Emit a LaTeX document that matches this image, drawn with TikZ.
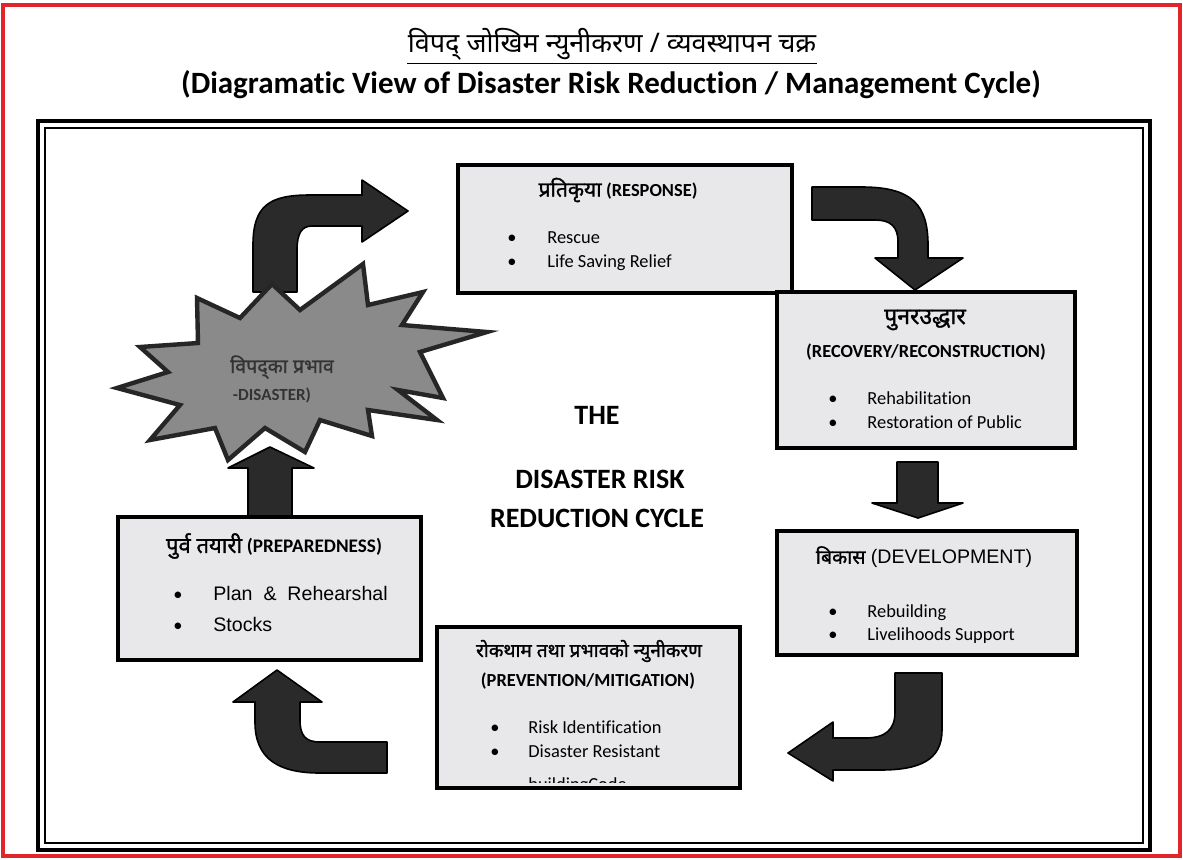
\documentclass[tikz,border=0pt]{standalone}
\usepackage{fontspec}
\setmainfont[Ligatures=NoCommon]{Carlito}
\newfontfamily\arialf{Liberation Sans}
\newfontfamily\deva[Script=Devanagari]{Noto Sans}
\newfontfamily\devab[Script=Devanagari, FakeBold=1.3]{Noto Sans}
\usetikzlibrary{calc}
\definecolor{boxfill}{HTML}{E8E8EA}
\definecolor{arrowfill}{HTML}{2A2A2A}
\definecolor{starfill}{HTML}{8A8A8A}
\definecolor{framered}{HTML}{E0262A}
\tikzset{
  stagebox/.style={draw=black, line width=2.4pt, fill=boxfill, inner sep=0pt},
  blockarrow/.style={fill=arrowfill, draw=black, line width=0.8pt, line join=round},
  txt/.style={inner sep=0pt, font=\fontsize{9.2}{11}\selectfont},
  bul/.style={inner sep=0pt, font=\fontsize{9.2}{11}\selectfont, anchor=mid},
  itemtxt/.style={inner sep=0pt, font=\fontsize{9.2}{11}\selectfont, anchor=mid west},
  aitemtxt/.style={inner sep=0pt, font=\arialf\fontsize{9.8}{11}\selectfont, anchor=mid west},
  centretxt/.style={inner sep=0pt, font=\bfseries\fontsize{14}{16}\selectfont},
}
\begin{document}
\begin{tikzpicture}[x=0.5pt,y=-0.5pt]
\useasboundingbox (0,0) rectangle (1183,859);
\fill[white] (0,0) rectangle (1183,859);
% red outer border
\draw[framered, line width=1.6pt] (3,5) rectangle (1180,856);
% double frame
\draw[black, line width=2pt] (38,121) rectangle (1150,850);
\draw[black, line width=0.8pt] (45,128) rectangle (1143,843);

% titles
\node[inner sep=0pt, font=\deva\fontsize{13.5}{15}\selectfont] (dtitle) at (612,44) {विपद् जोखिम न्युनीकरण / व्यवस्थापन चक्र};
\draw[line width=0.7pt] ($(dtitle.south west)+(0,-1.5pt)$) -- ($(dtitle.south east)+(0,-1.5pt)$);
\node[inner sep=0pt, font=\bfseries\fontsize{15.5}{17}\selectfont] (etitle) at (611,85) {(Diagramatic View of Disaster Risk Reduction / Management Cycle)};

% block arrows
\draw[blockarrow] (253,292) -- (253,245) .. controls (253,205) and (270,195) .. (310,195)
  -- (362,195) -- (362,180) -- (408,211) -- (362,242) -- (362,226) -- (312,226)
  .. controls (302,226) and (297,233) .. (297,250) -- (297,292) -- cycle;
\draw[blockarrow] (812,187) -- (862,187) .. controls (912,187) and (928,205) .. (928,245)
  -- (928,258) -- (963,258) -- (915,290) -- (875,258) -- (898,258) -- (898,242)
  .. controls (898,226) and (890,220) .. (875,220) -- (812,220) -- cycle;
\draw[blockarrow] (897,462) -- (938,462) -- (938,503) -- (963,503) -- (918,518) -- (872,503) -- (897,503) -- cycle;
\draw[blockarrow] (895,673) -- (942,673) -- (942,730) .. controls (942,760) and (920,770) .. (880,770)
  -- (833,770) -- (833,781) -- (788,753) -- (833,722) -- (833,738) -- (865,738)
  .. controls (885,738) and (895,730) .. (895,712) -- cycle;
\draw[blockarrow] (387,742) -- (320,742) .. controls (305,742) and (300,735) .. (300,720)
  -- (300,702) -- (322,702) -- (277,670) -- (233,702) -- (255,702) -- (255,722)
  .. controls (255,760) and (280,773) .. (320,773) -- (387,773) -- cycle;

% disaster starburst
\draw[fill=starfill, draw=black!85, line width=2.2pt, line join=miter, miter limit=20]
  (197,298) -- (240,318) -- (272,284) -- (300,310) -- (363,264) -- (368,305) -- (423,292)
  -- (402,325) -- (487,332) -- (420,352) -- (443,398) -- (398,390) -- (437,420) -- (368,410)
  -- (372,436) -- (320,420) -- (305,452) -- (265,428) -- (228,460) -- (215,428) -- (150,440)
  -- (180,405) -- (117,388) -- (168,372) -- (140,347) -- (198,343) -- cycle;
\node[inner sep=0pt, text=black!80, font=\devab\fontsize{9.8}{11}\selectfont] (dis1) at (282,367) {विपद्का प्रभाव};
\node[inner sep=0pt, text=black!80, font=\bfseries\fontsize{8.5}{10}\selectfont] (dis2) at (272,395) {-DISASTER)};
\draw[blockarrow] (248,517) -- (248,468) -- (228,468) -- (270,447) -- (314,468) -- (292,468) -- (292,517) -- cycle;

% stage boxes
\node[stagebox, minimum width=167pt, minimum height=64pt] (resp) at (625,229) {};
\node[stagebox, minimum width=149pt, minimum height=78pt] (reco) at (926,370) {};
\node[stagebox, minimum width=150pt, minimum height=62pt] (deve) at (927,593) {};
\node[stagebox, minimum width=151.5pt, minimum height=80.5pt] (prev) at (588.5,707.5) {};
\node[stagebox, minimum width=151.5pt, minimum height=71.5pt] (prep) at (269.5,588.5) {};

% response
\node[txt] (respt) at (618,190) {{\devab\fontsize{10.5}{12}\selectfont प्रतिकृया} \textbf{(RESPONSE)}};
\node[bul] (rb1) at (512,239) {•};
\node[itemtxt] (ri1) at (547,239) {Rescue};
\node[bul] (rb2) at (512,263) {•};
\node[itemtxt] (ri2) at (547,263) {Life Saving Relief};

% recovery
\node[txt, font=\devab\fontsize{11.5}{13}\selectfont] (recot1) at (925,320) {पुनरउद्धार};
\node[txt, font=\bfseries\fontsize{9.2}{11}\selectfont] (recot2) at (926,352) {(RECOVERY/RECONSTRUCTION)};
\node[bul] (cb1) at (833,400) {•};
\node[itemtxt] (ci1) at (867,400) {Rehabilitation};
\node[bul] (cb2) at (833,424) {•};
\node[itemtxt] (ci2) at (867,424) {Restoration of Public};

% development
\node[txt, font=\arialf\fontsize{9.8}{11}\selectfont] (devet) at (924,557) {{\devab बिकास} (DEVELOPMENT)};
\node[bul] (db1) at (833,613) {•};
\node[itemtxt] (di1) at (867,613) {Rebuilding};
\node[bul] (db2) at (833,636) {•};
\node[itemtxt] (di2) at (867,636) {Livelihoods Support};

% prevention
\node[txt, font=\devab\fontsize{9.5}{12}\selectfont] (prevt1) at (589,651) {रोकथाम तथा प्रभावको न्युनीकरण};
\node[txt, font=\bfseries\fontsize{9.2}{11}\selectfont] (prevt2) at (588,681) {(PREVENTION/MITIGATION)};
\node[bul] (pb1) at (495,729) {•};
\node[itemtxt] (pi1) at (528,729) {Risk Identification};
\node[bul] (pb2) at (495,753) {•};
\node[itemtxt] (pi2) at (528,753) {Disaster Resistant};
\begin{scope}
  \clip (441,631) rectangle (736,782);
  \node[itemtxt] (pi3) at (528,786) {buildingCode};
\end{scope}

% preparedness
\node[txt, font=\fontsize{9.6}{11}\selectfont] (prept) at (274,546) {{\devab\fontsize{11}{12}\selectfont पुर्व तयारी} \textbf{(PREPAREDNESS)}};
\node[bul] (qb1) at (178,596) {•};
\node[aitemtxt] (qi1) at (213,596) {Plan \ \& \ Rehearshal};
\node[bul] (qb2) at (178,627) {•};
\node[aitemtxt] (qi2) at (213,627) {Stocks};

% centre
\node[centretxt] (c1) at (597,415) {THE};
\node[centretxt] (c2) at (600,479) {DISASTER RISK};
\node[centretxt] (c3) at (597,518) {REDUCTION CYCLE};
\end{tikzpicture}
\end{document}
